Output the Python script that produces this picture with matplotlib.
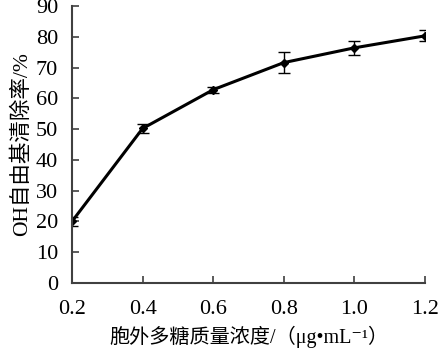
import matplotlib.pyplot as plt

# data
conc = [0.2, 0.4, 0.6, 0.8, 1.0, 1.2]
rate = [20.0, 50.2, 62.8, 71.6, 76.4, 80.3]
err = [1.5, 1.5, 1.0, 3.5, 2.2, 1.8]

xticks = [0.2, 0.4, 0.6, 0.8, 1.0, 1.2]
yticks = [0, 10, 20, 30, 40, 50, 60, 70, 80, 90]

fonts = ['Liberation Serif', 'Noto Sans CJK SC', 'DejaVu Serif']
plt.rcParams['font.family'] = fonts

fig = plt.figure(figsize=(4.4, 3.54), dpi=100)
ax = fig.add_axes([0.1636, 0.2006, 0.8023, 0.7825])

ax.errorbar(conc, rate, yerr=err, color='black', lw=2.2, marker='D', ms=4.5,
            ecolor='black', elinewidth=1.0, capsize=4.3, capthick=1.0)

ax.set_xlim(0.2, 1.2)
ax.set_ylim(0, 90)
ax.set_xticks(xticks)
ax.set_xticklabels([f'{v:.1f}' for v in xticks])
ax.set_yticks(yticks)

for s in ['top', 'right']:
    ax.spines[s].set_visible(False)
for s in ['left', 'bottom']:
    ax.spines[s].set_color('#404040')
    ax.spines[s].set_linewidth(1.5)

ax.tick_params(direction='in', length=5, width=1.2, color='#404040',
               labelsize=16)
ax.tick_params(axis='x', pad=12)
ax.tick_params(axis='y', pad=10)

ax.set_xlabel('胞外多糖质量浓度/（μg•mL⁻¹）', fontsize=14.5, labelpad=5)
ax.set_ylabel('OH自由基清除率/%', fontsize=15.5, labelpad=3)

fig.savefig('out.png', dpi=100)
